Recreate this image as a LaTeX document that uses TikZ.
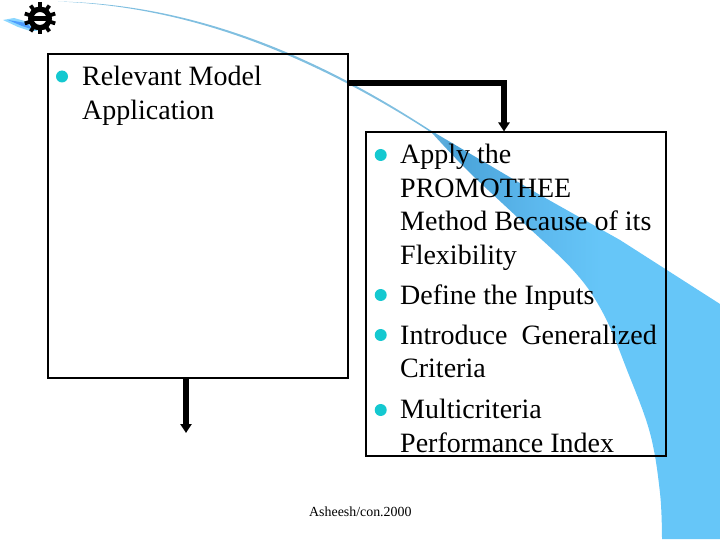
\documentclass[tikz,border=0pt]{standalone}
\usepackage{fontspec}
\setmainfont{Liberation Serif}
\usetikzlibrary{arrows.meta,calc}
\definecolor{dotc}{HTML}{14C8D0}
\pgfdeclarehorizontalshading{swsh}{100bp}{
  rgb(0bp)=(0.50,0.75,0.88);
  rgb(52bp)=(0.50,0.75,0.88);
  rgb(55bp)=(0.29,0.64,0.85);
  rgb(61bp)=(0.36,0.72,0.93);
  rgb(66bp)=(0.40,0.776,0.973);
  rgb(100bp)=(0.40,0.776,0.973)}
\tikzset{
  x=1pt,y=-1pt,
  box/.style={draw=black,line width=2pt,fill=none,inner sep=0pt,anchor=north west},
  txt/.style={inner sep=0pt,anchor=north west,align=left,font=\fontsize{28}{33.5}\selectfont},
  dot/.style={circle,fill=dotc,inner sep=0pt,minimum size=12pt},
  link/.style={line width=5.5pt,-{Triangle[length=9pt,width=11pt]}}
}
\begin{document}
\begin{tikzpicture}
\useasboundingbox (0,0) rectangle (720,540);
% swoosh
\shade[shading=swsh] (58,1.5) .. controls (180,4) and (300,45) .. (430,130)
  -- (540,195) -- (620,240) -- (720,304) -- (720,539) -- (662,539)
  -- plot[smooth,tension=0.6] coordinates {(662,539) (660,493) (650,433) (627,370) (603,313) (573,270) (517,217) (467,170) (432,133)}
  .. controls (300,48) and (180,6) .. (58,1.5) -- cycle;
% logo wisp
\fill[blue!35!cyan!45] (3,20) -- (14,18) -- (28,22) -- (38,31) -- (30,31) -- (18,27) -- cycle;
\fill[blue!55!cyan!70] (8,20) -- (26,23) -- (34,30) -- (22,26) -- cycle;
% logo
\begin{scope}[shift={(40,18.5)}]
  \foreach \a in {0,36,...,324}{
    \fill[black,rotate=\a] (-1.9,-16) rectangle (1.9,-9);
  }
  \fill[black,even odd rule] (0,0) circle (12) (0,0) circle (6.5);
  \fill[black] (-9,-2.6) rectangle (9,2.6);
\end{scope}
% boxes
\node[box,minimum width=300pt,minimum height=324pt] (lbox) at (47,53) {};
\node[box,minimum width=300pt,minimum height=324pt] (rbox) at (365,131) {};
% connectors
\coordinate (ls) at ([yshift=-30pt]lbox.north east);
\coordinate (rt) at ([xshift=-12pt,yshift=-0.5pt]rbox.north);
\draw[link] (ls) -| (rt);
\coordinate (ld) at ([xshift=-12pt]lbox.south);
\coordinate (le) at ([yshift=-54pt]ld);
\draw[link] (ld) -- (le);
% bullets
\node[dot] (b0) at (62,76.5) {};
\node[dot] (b1) at (380.7,155) {};
\node[dot] (b2) at (380.7,295) {};
\node[dot] (b3) at (380.7,335) {};
\node[dot] (b4) at (380.7,410) {};
% text
\node[txt] (t0) at (82,61.9) {\strut Relevant Model\\Application};
\node[txt] (t1) at (400,140.2) {\strut Apply the\\PROMOTHEE\\Method Because of its\\Flexibility};
\node[txt] (t2) at (400,280.6) {\strut Define the Inputs};
\node[txt] (t3) at (400,320.6) {\strut Introduce\ \ Generalized\\Criteria};
\node[txt] (t4) at (400,394.9) {\strut Multicriteria\\Performance Index};
\node[inner sep=0pt,anchor=base west,font=\fontsize{13.9}{17}\selectfont] (foot) at (309,516) {Asheesh/con.2000};
\end{tikzpicture}
\end{document}
